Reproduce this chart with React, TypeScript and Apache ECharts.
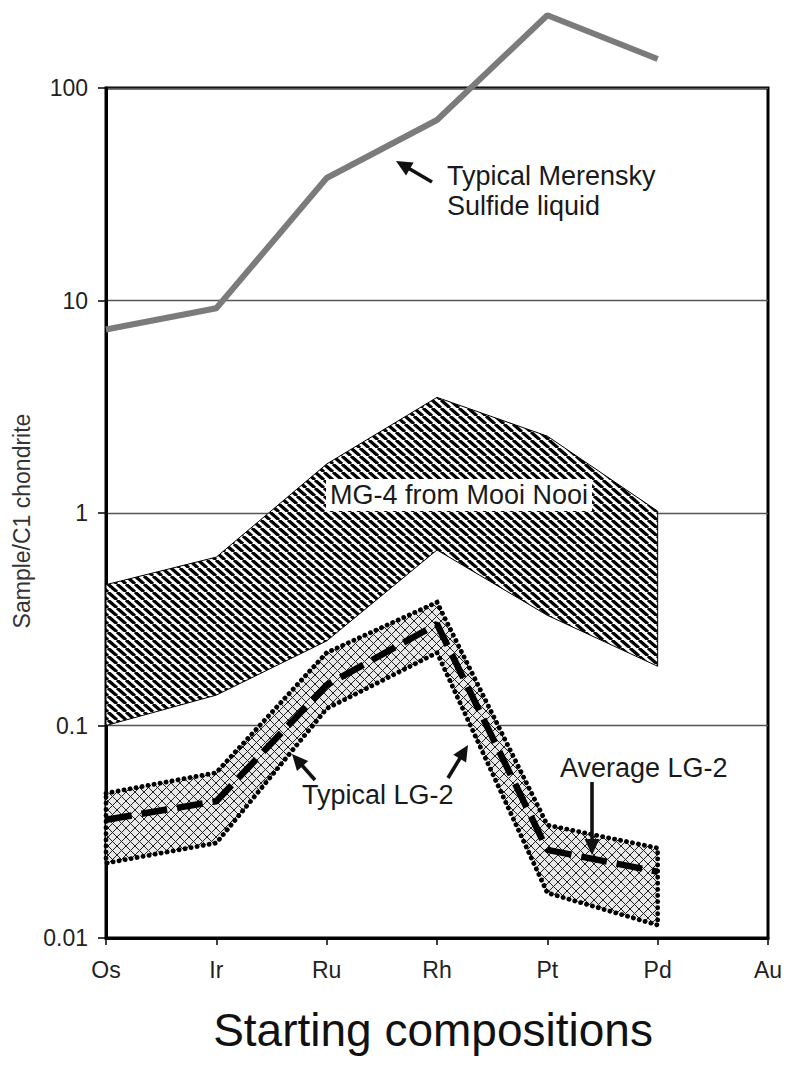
import { useEffect, useRef } from "react";
import * as echarts from "echarts";

// Element order on the chondrite-normalised plot
const elements = ["Os", "Ir", "Ru", "Rh", "Pt", "Pd", "Au"];
const yTicks = [0.01, 0.1, 1, 10, 100];

// Typical Merensky sulfide liquid
const merensky = [7.3, 9.2, 37.7, 70.7, 220, 137];

// MG-4 from Mooi Nooi (range)
const mg4Upper = [0.46, 0.62, 1.7, 3.5, 2.3, 1.02];
const mg4Lower = [0.1, 0.139, 0.25, 0.67, 0.33, 0.19];

// LG-2 range and average
const lg2Upper = [0.048, 0.06, 0.22, 0.38, 0.034, 0.0265];
const lg2Average = [0.036, 0.044, 0.155, 0.3, 0.026, 0.0205];
const lg2Lower = [0.0225, 0.028, 0.12, 0.22, 0.0163, 0.0115];

const FONT = '"Liberation Sans", Arial, Helvetica, sans-serif';

// Diagonal "\" stripes on white
function stripeTile() {
  const w = 9;
  const h = 8;
  const c = document.createElement("canvas");
  c.width = w;
  c.height = h;
  const g = c.getContext("2d")!;
  g.fillStyle = "#fff";
  g.fillRect(0, 0, w, h);
  g.strokeStyle = "#000";
  g.lineWidth = 3.2;
  for (let k = -1; k <= 1; k++) {
    g.beginPath();
    g.moveTo(k * w, 0);
    g.lineTo(k * w + w, h);
    g.stroke();
  }
  return { image: c, repeat: "repeat", imageWidth: w, imageHeight: h };
}

// Fine diagonal cross-hatch on light grey
function crossTile() {
  const s = 9;
  const c = document.createElement("canvas");
  c.width = s;
  c.height = s;
  const g = c.getContext("2d")!;
  g.fillStyle = "#e8e8e8";
  g.fillRect(0, 0, s, s);
  g.strokeStyle = "#222";
  g.lineWidth = 1;
  for (let k = -1; k <= 1; k++) {
    g.beginPath();
    g.moveTo(k * s, 0);
    g.lineTo(k * s + s, s);
    g.stroke();
    g.beginPath();
    g.moveTo(k * s, s);
    g.lineTo(k * s + s, 0);
    g.stroke();
  }
  return { image: c, repeat: "repeat", imageWidth: s, imageHeight: s };
}

function bandRenderer(upper: number[], lower: number[], style: any) {
  return (_params: any, api: any) => {
    const pts: number[][] = [];
    upper.forEach((v, i) => pts.push(api.coord([i, v])));
    for (let i = lower.length - 1; i >= 0; i--) pts.push(api.coord([i, lower[i]]));
    return { type: "polygon", shape: { points: pts }, style };
  };
}

function arrow(x1: number, y1: number, x2: number, y2: number) {
  const ang = Math.atan2(y2 - y1, x2 - x1);
  const L = 16;
  const W = 7.5;
  const bx = x2 - L * Math.cos(ang);
  const by = y2 - L * Math.sin(ang);
  const px = -Math.sin(ang) * W;
  const py = Math.cos(ang) * W;
  return [
    {
      type: "line",
      z: 50,
      shape: { x1, y1, x2: bx + 2 * Math.cos(ang), y2: by + 2 * Math.sin(ang) },
      style: { stroke: "#111", lineWidth: 3.6 },
    },
    {
      type: "polygon",
      z: 50,
      shape: { points: [[x2, y2], [bx + px, by + py], [bx - px, by - py]] },
      style: { fill: "#111" },
    },
  ];
}

function label(text: string, x: number, y: number, extra: any = {}) {
  return {
    type: "text",
    z: 50,
    x,
    y,
    style: {
      text,
      fill: "#1a1a1a",
      font: `27px ${FONT}`,
      textAlign: "left",
      textVerticalAlign: "middle",
      ...extra,
    },
  };
}

export default function App() {
  const ref = useRef<HTMLDivElement>(null);

  useEffect(() => {
    if (!ref.current) return;
    const chart = echarts.init(ref.current, null, { renderer: "svg" });

    const option: any = {
      animation: false,
      backgroundColor: "#fff",
      grid: {
        left: 106,
        top: 88,
        width: 662,
        height: 850,
        show: true,
        borderColor: "#000",
        borderWidth: 3,
        backgroundColor: "transparent",
      },
      xAxis: {
        type: "category",
        data: elements,
        boundaryGap: false,
        axisLine: { lineStyle: { color: "#000", width: 3 } },
        axisTick: { show: true, length: 7, lineStyle: { color: "#000", width: 1.5 } },
        axisLabel: { fontSize: 23, fontFamily: FONT, color: "#222", margin: 20 },
        splitLine: { show: false },
      },
      yAxis: {
        type: "log",
        logBase: 10,
        min: 0.01,
        max: 100,
        axisLine: { show: true, lineStyle: { color: "#000", width: 3 } },
        axisTick: { show: true, length: 8, lineStyle: { color: "#000", width: 1.5 } },
        axisLabel: {
          fontSize: 23,
          fontFamily: FONT,
          color: "#222",
          margin: 18,
          formatter: (v: number) => {
            let best = yTicks[0];
            yTicks.forEach((t) => {
              if (Math.abs(Math.log10(t) - Math.log10(v)) < Math.abs(Math.log10(best) - Math.log10(v))) best = t;
            });
            return String(best);
          },
        },
        splitLine: { show: true, lineStyle: { color: "#555", width: 1.3 } },
        minorTick: { show: false },
      },
      series: [
        {
          type: "custom",
          name: "MG-4 from Mooi Nooi",
          data: [[0, 1]],
          clip: false,
          z: 2,
          renderItem: bandRenderer(mg4Upper, mg4Lower, {
            fill: stripeTile(),
            stroke: "#000",
            lineWidth: 1,
          }),
        },
        {
          type: "custom",
          name: "Typical LG-2",
          data: [[0, 0.05]],
          clip: false,
          z: 3,
          renderItem: bandRenderer(lg2Upper, lg2Lower, {
            fill: crossTile(),
            stroke: "#000",
            lineWidth: 4.8,
            lineDash: [0.1, 6],
            lineCap: "round",
          }),
        },
        {
          type: "line",
          name: "Average LG-2",
          data: lg2Average,
          symbol: "none",
          z: 4,
          lineStyle: { color: "#000", width: 6.5, type: [26, 10] },
        },
        {
          type: "line",
          name: "Typical Merensky Sulfide liquid",
          data: merensky,
          symbol: "none",
          clip: false,
          z: 5,
          lineStyle: { color: "#7b7b7b", width: 6 },
        },
      ],
      graphic: [
        label("Typical Merensky", 447, 176),
        label("Sulfide liquid", 447, 206),
        ...arrow(432, 182, 396, 161),
        label("MG-4 from Mooi Nooi", 326, 495, {
          backgroundColor: "#fff",
          padding: [3, 4, 2, 4],
        }),
        label("Typical LG-2", 302, 795),
        ...arrow(315, 780, 292, 754),
        ...arrow(448, 778, 468, 745),
        label("Average LG-2", 560, 768),
        ...arrow(592, 782, 592, 855),
        {
          type: "text",
          z: 50,
          x: 22,
          y: 521,
          rotation: Math.PI / 2,
          style: {
            text: "Sample/C1 chondrite",
            fill: "#333",
            font: `23px ${FONT}`,
            textAlign: "center",
            textVerticalAlign: "middle",
          },
        },
        {
          type: "text",
          z: 50,
          x: 433,
          y: 1030,
          style: {
            text: "Starting compositions",
            fill: "#111",
            font: `46px ${FONT}`,
            textAlign: "center",
            textVerticalAlign: "middle",
          },
        },
      ],
    };

    chart.setOption(option);
    return () => chart.dispose();
  }, []);

  return (
    <div
      ref={ref}
      style={{ position: "fixed", left: 0, top: 0, width: 788, height: 1066, background: "#fff" }}
    />
  );
}
